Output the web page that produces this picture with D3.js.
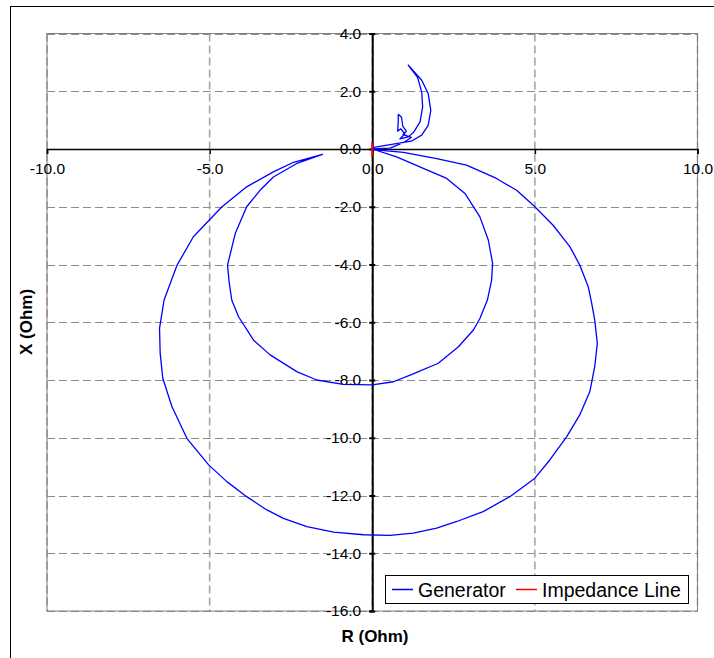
<!DOCTYPE html>
<html><head><meta charset="utf-8">
<script src="https://cdn.jsdelivr.net/npm/d3@7"></script>
<style>
html,body{margin:0;padding:0;background:#fff;}
svg{display:block;font-family:"Liberation Sans",Arial,sans-serif;}
</style></head>
<body>
<svg id="c" width="714" height="658"></svg>
<script>
// ---- data ----
const xTicks = [-10, -5, 0, 5, 10];
const yTicks = [4, 2, 0, -2, -4, -6, -8, -10, -12, -14, -16];
const seriesNames = ["Generator", "Impedance Line"];
const genR = [0.00,1.20,1.52,1.72,1.80,1.72,1.52,1.11,1.39,1.52,1.55,1.47,1.28,1.11,
  0.85,1.00,0.88,0.78,0.80,0.80,0.90,0.94,1.05,0.95,1.20,1.00,0.55,0.00,
  0.75,1.57,2.29,2.85,3.31,3.57,3.70,3.67,3.54,3.31,3.11,2.65,2.03,1.26,0.65,0.00,-0.89,-1.71,-2.32,-3.14,-3.65,-4.11,-4.32,-4.40,-4.45,-4.21,-3.86,-3.45,-3.04,-2.32,-1.53,
  -2.42,-3.04,-3.86,-4.62,-5.50,-6.00,-6.40,-6.54,-6.52,-6.44,-6.16,-5.70,-5.03,-4.47,-3.86,-3.24,-2.73,-2.01,-1.19,-0.27,0.55,1.26,1.98,2.60,3.41,4.23,5.00,5.46,5.98,6.38,6.69,6.84,6.92,6.84,6.74,6.64,6.38,6.08,5.56,5.00,4.44,3.82,2.90,1.98,0.96,0.03];
const genX = [0.05,0.27,0.48,0.82,1.34,1.92,2.38,2.90,2.49,1.98,1.46,0.94,0.59,0.42,
  0.35,0.52,0.70,0.62,0.95,1.20,1.10,0.78,0.62,0.50,0.40,0.25,0.03,0.00,
  -0.27,-0.67,-1.02,-1.54,-2.35,-3.16,-3.96,-4.54,-5.23,-5.87,-6.27,-6.85,-7.42,-7.79,-8.06,-8.17,-8.15,-8.00,-7.71,-7.13,-6.62,-5.81,-5.23,-4.60,-4.02,-2.92,-2.00,-1.43,-0.97,-0.50,-0.19,
  -0.46,-0.79,-1.31,-2.00,-3.04,-4.02,-5.23,-6.21,-7.08,-7.94,-8.92,-10.02,-10.94,-11.52,-12.04,-12.50,-12.79,-13.08,-13.27,-13.36,-13.38,-13.30,-13.13,-12.90,-12.56,-12.04,-11.40,-10.77,-9.96,-9.21,-8.40,-7.54,-6.73,-5.92,-5.30,-4.77,-4.02,-3.39,-2.64,-2.00,-1.43,-1.02,-0.56,-0.33,-0.12,-0.02];
const impR = [0.00, 0.00];
const impX = [-0.27, 0.22];
const colors = ["#0000FF", "#FF0000"];

// ---- layout ----
const svg = d3.select("#c");
const x = d3.scaleLinear().domain([-10, 10]).range([47, 697.5]);
const y = d3.scaleLinear().domain([-16, 4]).range([611, 33.5]);

// outer chart border
svg.append("rect").attr("x", 10.5).attr("y", 6.5).attr("width", 760).attr("height", 700)
  .attr("fill", "#fff").attr("stroke", "#000").attr("stroke-width", 1);

// gridlines
const grid = svg.append("g");
grid.selectAll("line.h").data(yTicks).join("line")
  .attr("x1", x(-10)).attr("x2", x(10))
  .attr("y1", d => Math.round(y(d)) + 0.5).attr("y2", d => Math.round(y(d)) + 0.5)
  .attr("stroke", "#8c8c8c").attr("stroke-width", 1).attr("stroke-dasharray", "8,4");
grid.selectAll("line.v").data(xTicks).join("line")
  .attr("y1", y(4)).attr("y2", y(-16))
  .attr("x1", d => x(d)).attr("x2", d => x(d))
  .attr("stroke", "#a0a0a0").attr("stroke-width", 1.5).attr("stroke-dasharray", "8,4");

// plot border
svg.append("rect").attr("x", x(-10)).attr("y", y(4))
  .attr("width", x(10) - x(-10)).attr("height", y(-16) - y(4))
  .attr("fill", "none").attr("stroke", "#808080").attr("stroke-width", 1);

// x axis at X=0
const xAxis = d3.axisBottom(x).tickValues(xTicks).tickSize(5).tickPadding(9)
  .tickFormat(d => d.toFixed(1));
const gx = svg.append("g").attr("transform", `translate(0,${y(0)})`).call(xAxis);
gx.select(".domain").attr("stroke", "#000").attr("stroke-width", 1.6);
gx.selectAll(".tick line").attr("stroke", "#000").attr("stroke-width", 1.5);
gx.selectAll("text").attr("font-size", 15.5).attr("fill", "#000")
  .attr("font-family", "'Liberation Sans', Arial, sans-serif");

// y axis at R=0
const yAxis = d3.axisLeft(y).tickValues(yTicks).tickSize(3).tickPadding(8)
  .tickFormat(d => d.toFixed(1));
const gy = svg.append("g").attr("transform", `translate(${x(0)},0)`).call(yAxis);
gy.select(".domain").attr("stroke", "#000").attr("stroke-width", 2);
gy.selectAll(".tick line").attr("x2", -3).attr("x1", 3).attr("stroke", "#000").attr("stroke-width", 2);
gy.selectAll("text").attr("font-size", 15.5).attr("fill", "#000")
  .attr("font-family", "'Liberation Sans', Arial, sans-serif");

// series
const line = d3.line().x(d => x(d[0])).y(d => y(d[1]));
const genPts = genR.map((r, i) => [r, genX[i]]);
const impPts = impR.map((r, i) => [r, impX[i]]);
svg.append("path").attr("d", line(genPts)).attr("fill", "none")
  .attr("stroke", colors[0]).attr("stroke-width", 1.3).attr("stroke-linejoin", "round");
svg.append("path").attr("d", line(impPts)).attr("fill", "none")
  .attr("stroke", colors[1]).attr("stroke-width", 2);

// axis titles
svg.append("text").attr("x", 375).attr("y", 642).attr("text-anchor", "middle")
  .attr("font-size", 17).attr("font-weight", "bold").text("R (Ohm)");
svg.append("text").attr("transform", "translate(32,322) rotate(-90)").attr("text-anchor", "middle")
  .attr("font-size", 17).attr("font-weight", "bold").text("X (Ohm)");

// legend
const lg = svg.append("g");
lg.append("rect").attr("x", 385.5).attr("y", 575.5).attr("width", 303).attr("height", 28)
  .attr("fill", "#fff").attr("stroke", "#000").attr("stroke-width", 1);
const legX = [392, 516];
seriesNames.forEach((n, i) => {
  lg.append("line").attr("x1", legX[i]).attr("x2", legX[i] + 21).attr("y1", 589.5).attr("y2", 589.5)
    .attr("stroke", colors[i]).attr("stroke-width", 1.5);
  lg.append("text").attr("x", legX[i] + 26).attr("y", 596.5).attr("font-size", 19.5).text(n);
});
</script>
</body></html>
